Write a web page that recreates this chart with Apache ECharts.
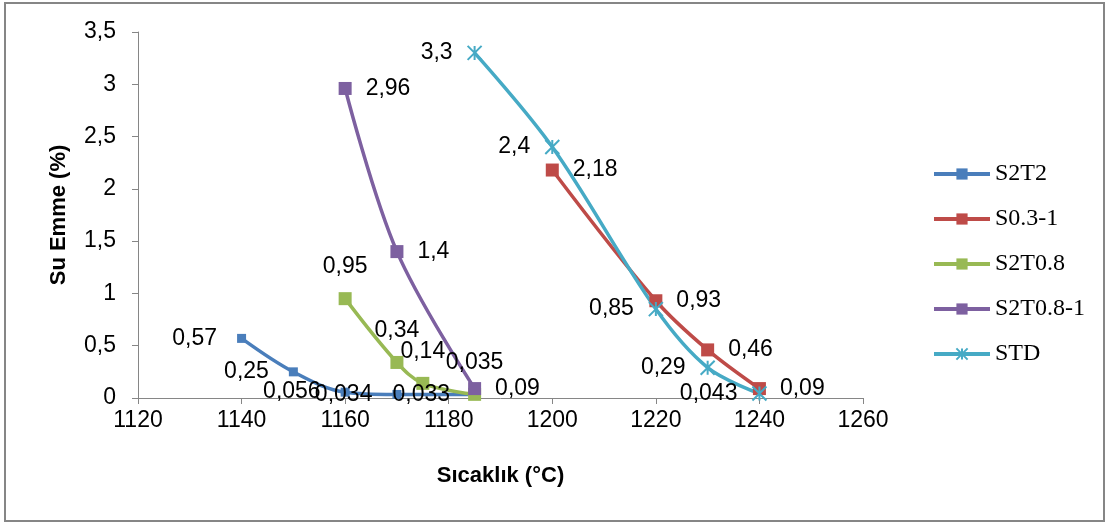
<!DOCTYPE html>
<html>
<head>
<meta charset="utf-8">
<script src="https://cdn.jsdelivr.net/npm/echarts@6/dist/echarts.min.js"></script>
<style>
  html, body { margin: 0; padding: 0; background: #fff; }
  #chart { width: 1108px; height: 524px; }
</style>
</head>
<body>
<div id="chart"></div>
<script>
// data
const seriesNames = ['S2T2', 'S0.3-1', 'S2T0.8', 'S2T0.8-1', 'STD']

const s2t2X = [1140, 1150, 1160, 1170, 1185]
const s2t2Y = [0.57, 0.25, 0.056, 0.034, 0.033]

const s03X = [1200, 1220, 1230, 1240]
const s03Y = [2.18, 0.93, 0.46, 0.09]

const s2t08X = [1160, 1170, 1175, 1185]
const s2t08Y = [0.95, 0.34, 0.14, 0.035]

const s2t081X = [1160, 1170, 1185]
const s2t081Y = [2.96, 1.4, 0.09]

const stdX = [1185, 1200, 1220, 1230, 1240]
const stdY = [3.3, 2.4, 0.85, 0.29, 0.043]

const xTicks = [1120, 1140, 1160, 1180, 1200, 1220, 1240, 1260]
const yTicks = [0, 0.5, 1, 1.5, 2, 2.5, 3, 3.5]

// label placement per point (style, not data)
const labelPos = {
  'S2T2': ['left', 'left', 'left', 'left', 'left'],
  'S0.3-1': ['right', 'right', 'right', 'right'],
  'S2T0.8': ['top', 'top', 'top', 'top'],
  'S2T0.8-1': ['right', 'right', 'right'],
  'STD': ['left', 'left', 'left', 'left', 'left']
}

const colors = ['#4A7EBB', '#BE4B48', '#98B954', '#7D60A0', '#46AAC5']
const fontSans = '"Liberation Sans", Arial, sans-serif'
const comma = v => String(v).replace('.', ',')

function makeSeries(name, xs, ys, idx, symbol, size, dist) {
  return {
    name: name,
    type: 'line',
    smooth: 0.35,
    symbol: symbol,
    symbolSize: size,
    lineStyle: { width: 3.5, color: colors[idx] },
    itemStyle: idx === 4
      ? { color: colors[idx], borderColor: colors[idx], borderWidth: 2 }
      : { color: colors[idx], borderWidth: 0 },
    label: {
      show: true,
      distance: dist,
      fontFamily: fontSans,
      fontSize: 23,
      color: '#000',
      formatter: p => comma(p.value[1])
    },
    data: xs.map((x, i) => ({
      value: [x, ys[i]],
      label: { position: labelPos[name][i] }
    }))
  }
}

const chart = echarts.init(document.getElementById('chart'))
chart.setOption({
  animation: false,
  grid: { left: 138, top: 32, right: 245, bottom: 126 },
  graphic: [{
    type: 'rect',
    shape: { x: 5, y: 3, width: 1099, height: 518 },
    style: { fill: 'none', stroke: '#868686', lineWidth: 2 },
    silent: true
  }],
  legend: {
    orient: 'vertical',
    left: 927,
    top: 157,
    itemWidth: 56,
    itemHeight: 14,
    itemGap: 21,
    itemTextGap: 5,
    lineStyle: { width: 4 },
    data: seriesNames,
    textStyle: { fontFamily: '"Liberation Serif", "Times New Roman", serif', fontSize: 24, color: '#000' }
  },
  xAxis: {
    type: 'value',
    min: xTicks[0],
    max: xTicks[xTicks.length - 1],
    interval: 20,
    name: 'Sıcaklık (°C)',
    nameLocation: 'middle',
    nameGap: 67,
    nameTextStyle: { fontFamily: fontSans, fontSize: 22, fontWeight: 'bold', color: '#000' },
    axisLine: { lineStyle: { color: '#868686', width: 1 } },
    axisTick: { show: true, length: 6, lineStyle: { color: '#868686' } },
    axisLabel: { fontFamily: fontSans, fontSize: 23, color: '#000', margin: 11, formatter: v => String(v) },
    splitLine: { show: false }
  },
  yAxis: {
    type: 'value',
    min: yTicks[0],
    max: yTicks[yTicks.length - 1],
    interval: 0.5,
    name: 'Su Emme (%)',
    nameLocation: 'middle',
    nameGap: 68,
    nameTextStyle: { fontFamily: fontSans, fontSize: 22, fontWeight: 'bold', color: '#000' },
    axisLine: { show: true, lineStyle: { color: '#868686', width: 1 } },
    axisTick: { show: true, length: 6, lineStyle: { color: '#868686' } },
    axisLabel: { fontFamily: fontSans, fontSize: 23, color: '#000', margin: 22, formatter: v => comma(v) },
    splitLine: { show: false }
  },
  series: [
    makeSeries('S2T2', s2t2X, s2t2Y, 0, 'rect', 9, 20),
    makeSeries('S0.3-1', s03X, s03Y, 1, 'rect', 13, 14),
    makeSeries('S2T0.8', s2t08X, s2t08Y, 2, 'rect', 13, 14),
    makeSeries('S2T0.8-1', s2t081X, s2t081Y, 3, 'rect', 13, 14),
    makeSeries('STD', stdX, stdY, 4, 'path://M0,0L10,10M10,0L0,10M5,0L5,10', 14, 14)
  ]
})
</script>
</body>
</html>
